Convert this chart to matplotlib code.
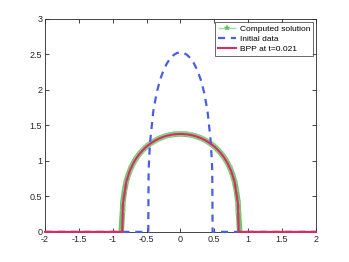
import matplotlib
matplotlib.use("Agg")
import matplotlib.pyplot as plt
import numpy as np

plt.rcParams['font.family'] = ['Liberation Sans', 'DejaVu Sans']
plt.rcParams['axes.unicode_minus'] = False

# Half-profile values (symmetric about x = 0)
bpp_x_half = [0.0, 0.05, 0.10, 0.15, 0.20, 0.25, 0.30, 0.35, 0.40, 0.45,
              0.50, 0.55, 0.60, 0.65, 0.70, 0.75, 0.80, 0.85, 0.86]
bpp_y_half = [1.380, 1.378, 1.374, 1.366, 1.355, 1.340, 1.322, 1.299, 1.272, 1.240,
              1.203, 1.158, 1.105, 1.041, 0.961, 0.857, 0.707, 0.393, 0.0]

comp_x_half = [0.0, 0.025, 0.05, 0.075, 0.10, 0.125, 0.15, 0.175, 0.20, 0.225, 0.25,
               0.275, 0.30, 0.325, 0.35, 0.375, 0.40, 0.425, 0.45, 0.475, 0.50,
               0.525, 0.55, 0.575, 0.60, 0.625, 0.65, 0.675, 0.70, 0.725, 0.75,
               0.775, 0.80, 0.825, 0.85, 0.855, 0.875]
comp_y_half = [1.380, 1.379, 1.378, 1.376, 1.374, 1.370, 1.366, 1.361, 1.355, 1.348, 1.340,
               1.332, 1.322, 1.311, 1.299, 1.286, 1.272, 1.257, 1.240, 1.222, 1.203,
               1.181, 1.158, 1.133, 1.105, 1.075, 1.041, 1.003, 0.961, 0.913, 0.857,
               0.790, 0.707, 0.590, 0.420, 0.300, 0.0]

init_x_half = [0.0, 0.05, 0.10, 0.15, 0.20, 0.25, 0.30, 0.35, 0.40, 0.45, 0.47, 0.475]
init_y_half = [2.530, 2.521, 2.493, 2.445, 2.374, 2.277, 2.145, 1.965, 1.704, 1.251, 0.874, 0.0]

x_range = [-2.0, 2.0]
x_ticks = [-2, -1.5, -1, -0.5, 0, 0.5, 1, 1.5, 2]
y_ticks = [0, 0.5, 1, 1.5, 2, 2.5, 3]
legend_labels = ["Computed solution", "Initial data", "BPP at t=0.021"]


def full_profile(xh, yh, pad=True):
    xh = np.asarray(xh)
    yh = np.asarray(yh)
    x = np.concatenate([-xh[::-1], xh[1:]])
    y = np.concatenate([yh[::-1], yh[1:]])
    if pad:
        x = np.concatenate([[x_range[0]], x, [x_range[1]]])
        y = np.concatenate([[0.0], y, [0.0]])
    return x, y


fig = plt.figure(figsize=(3.49, 2.62), dpi=100)
ax = fig.add_axes([0.129, 0.115, 0.776, 0.8125])

cx, cy = full_profile(comp_x_half, comp_y_half, pad=False)
ix, iy = full_profile(init_x_half, init_y_half)
bx, by = full_profile(bpp_x_half, bpp_y_half)

ax.plot(cx, cy, color='#6fc46f', lw=4.0, marker='*', markersize=4,
        markerfacecolor='#8fd48f', markeredgecolor='#8fd48f', markeredgewidth=0.3,
        label=legend_labels[0], zorder=2, solid_capstyle='butt')
ax.plot(ix, iy, color='#4a5fe0', lw=1.6, ls=(0, (3.2, 2.6)), label=legend_labels[1],
        zorder=3, clip_on=False)
ax.plot(bx, by, color='#dc2a62', lw=1.5, label=legend_labels[2], zorder=4, clip_on=False)

ax.set_xlim(x_range)
ax.set_ylim(0, 3)
ax.set_xticks(x_ticks)
ax.set_xticklabels(['-2', '-1.5', '-1', '-0.5', '0', '0.5', '1', '1.5', '2'])
ax.set_yticks(y_ticks)
ax.set_yticklabels(['0', '0.5', '1', '1.5', '2', '2.5', '3'])
ax.tick_params(direction='in', length=3, width=0.6, labelsize=6.5, colors='#262626',
               top=True, right=True, pad=2)
for s in ax.spines.values():
    s.set_linewidth(0.6)
    s.set_color('#262626')
    s.set_zorder(1)

leg = ax.legend(loc='upper right', fontsize=6, frameon=True, fancybox=False,
                borderpad=0.35, labelspacing=0.3, handlelength=2.2, handletextpad=0.4,
                borderaxespad=0.35)
leg.get_frame().set_edgecolor('#262626')
leg.get_frame().set_linewidth(0.6)
leg.set_zorder(5)
gl = leg.get_lines()[0]
gl.set_linewidth(1.0)
gl.set_color('#a6dca6')
gl.set_markerfacecolor('#5cbf5c')
gl.set_markeredgecolor('#5cbf5c')

fig.savefig('out.png', dpi=100)
